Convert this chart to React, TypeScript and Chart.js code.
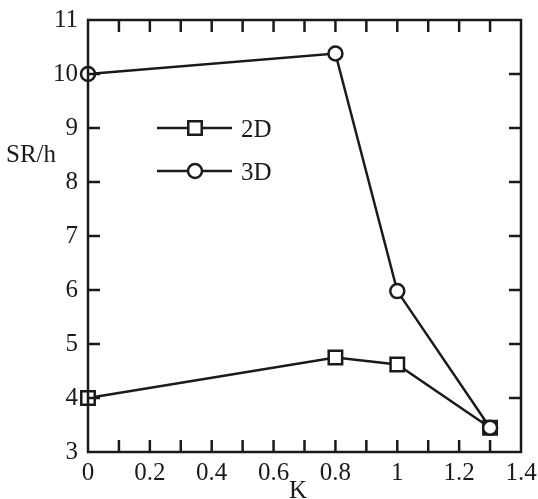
import React, { useEffect, useRef } from "react";
import { Chart, registerables } from "chart.js";

Chart.register(...registerables);

const kValues = [0, 0.8, 1.0, 1.3];
const sr2D = [4.0, 4.75, 4.62, 3.45];
const sr3D = [10.0, 10.38, 5.98, 3.45];
const xTickValues = [0, 0.2, 0.4, 0.6, 0.8, 1.0, 1.2, 1.4];
const xTickLabels = ["0", "0.2", "0.4", "0.6", "0.8", "1", "1.2", "1.4"];
const xMinorTicks = [0.1, 0.2, 0.3, 0.4, 0.5, 0.6, 0.7, 0.8, 0.9, 1.0, 1.1, 1.2, 1.3];
const yTickValues = [3, 4, 5, 6, 7, 8, 9, 10, 11];
const yTickLabels = ["3", "4", "5", "6", "7", "8", "9", "10", "11"];
const seriesNames = ["2D", "3D"];
const xTitle = "K";
const yTitle = "SR/h";

const FONT = "\"Liberation Serif\", \"Times New Roman\", Times, serif";
const FS = 25;

const framePlugin = {
  id: "frame",
  afterDraw(chart: any) {
    const { ctx, chartArea } = chart;
    const xs = chart.scales.x;
    const ys = chart.scales.y;
    const { left, right, top, bottom } = chartArea;
    ctx.save();
    ctx.strokeStyle = "#1a1a1a";
    ctx.lineWidth = 2.5;
    ctx.lineCap = "butt";
    ctx.strokeRect(left, top, right - left, bottom - top);
    const tl = 12;
    ctx.beginPath();
    xMinorTicks.forEach((v) => {
      const px = xs.getPixelForValue(v);
      ctx.moveTo(px, bottom);
      ctx.lineTo(px, bottom - tl);
      ctx.moveTo(px, top);
      ctx.lineTo(px, top + tl);
    });
    yTickValues.slice(1, -1).forEach((v) => {
      const py = ys.getPixelForValue(v);
      ctx.moveTo(left, py);
      ctx.lineTo(left + tl, py);
      ctx.moveTo(right, py);
      ctx.lineTo(right - tl, py);
    });
    ctx.stroke();

    // titles
    ctx.fillStyle = "#1a1a1a";
    ctx.font = `${FS}px ${FONT}`;
    ctx.textBaseline = "alphabetic";
    ctx.textAlign = "left";
    ctx.fillText(yTitle, 6, 162);
    ctx.textAlign = "center";
    ctx.fillText(xTitle, 298, 498);

    // legend
    const legendItems = [
      { name: seriesNames[0], y: 128, style: "rect", r: 9.5 },
      { name: seriesNames[1], y: 171, style: "circle", r: 7 },
    ];
    legendItems.forEach((it) => {
      ctx.beginPath();
      ctx.lineWidth = 2.5;
      ctx.moveTo(157, it.y);
      ctx.lineTo(232, it.y);
      ctx.stroke();
      ctx.beginPath();
      if (it.style === "rect") {
        const s = it.r * Math.SQRT1_2;
        ctx.rect(195 - s, it.y - s, 2 * s, 2 * s);
      } else {
        ctx.arc(195, it.y, it.r, 0, Math.PI * 2);
      }
      ctx.fillStyle = "#ffffff";
      ctx.fill();
      ctx.stroke();
      ctx.fillStyle = "#1a1a1a";
      ctx.textAlign = "left";
      ctx.textBaseline = "alphabetic";
      ctx.font = `${FS}px ${FONT}`;
      ctx.fillText(it.name, 241, it.y + 9);
    });
    ctx.restore();
  },
};

export default function App() {
  const ref = useRef<HTMLCanvasElement | null>(null);
  useEffect(() => {
    document.body.style.margin = "0";
    const canvas = ref.current;
    if (!canvas) return;
    let chart: any = null;
    let cancelled = false;
    const build = () => {
      if (cancelled) return;
      chart = new Chart(canvas, {
        type: "line",
        data: {
          datasets: [
            {
              label: seriesNames[1],
              data: kValues.map((k, i) => ({ x: k, y: sr3D[i] })),
              borderColor: "#1a1a1a",
              borderWidth: 2.5,
              pointStyle: "circle",
              pointRadius: 7,
              pointBorderWidth: 2.5,
              pointBackgroundColor: "#ffffff",
              pointBorderColor: "#1a1a1a",
              order: 0,
              clip: false as any,
            },
            {
              label: seriesNames[0],
              data: kValues.map((k, i) => ({ x: k, y: sr2D[i] })),
              borderColor: "#1a1a1a",
              borderWidth: 2.5,
              pointStyle: "rect",
              pointRadius: 9.5,
              pointBorderWidth: 2.5,
              pointBackgroundColor: "#ffffff",
              pointBorderColor: "#1a1a1a",
              order: 1,
              clip: false as any,
            },
          ],
        },
        options: {
          responsive: false,
          animation: false,
          layout: { padding: { top: 20, right: 17, left: 0, bottom: 0 } },
          plugins: { legend: { display: false }, tooltip: { enabled: false } },
          scales: {
            x: {
              type: "linear",
              min: 0,
              max: 1.4,
              afterBuildTicks: (s: any) => {
                s.ticks = xTickValues.map((v) => ({ value: v }));
              },
              afterFit: (s: any) => {
                s.height = 47;
                s.paddingLeft = 0;
                s.paddingRight = 0;
              },
              grid: { display: false, drawTicks: false },
              border: { display: false },
              ticks: {
                autoSkip: false,
                maxRotation: 0,
                padding: 6,
                color: "#1a1a1a",
                font: { family: FONT, size: FS },
                callback: (v: any) => {
                  const i = xTickValues.findIndex((t) => Math.abs(t - v) < 1e-6);
                  return i >= 0 ? xTickLabels[i] : "";
                },
              },
            },
            y: {
              type: "linear",
              min: 3,
              max: 11,
              afterBuildTicks: (s: any) => {
                s.ticks = yTickValues.map((v) => ({ value: v }));
              },
              afterFit: (s: any) => {
                s.width = 88;
                s.paddingTop = 0;
                s.paddingBottom = 0;
              },
              grid: { display: false, drawTicks: false },
              border: { display: false },
              ticks: {
                autoSkip: false,
                padding: 10,
                color: "#1a1a1a",
                font: { family: FONT, size: FS },
                callback: (v: any) => {
                  const i = yTickValues.findIndex((t) => Math.abs(t - v) < 1e-6);
                  return i >= 0 ? yTickLabels[i] : "";
                },
              },
            },
          },
        },
        plugins: [framePlugin],
      });
    };
    const fontsApi: any = (document as any).fonts;
    if (fontsApi && fontsApi.load) {
      fontsApi.load(`25px "Liberation Serif"`).then(build, build);
    } else {
      build();
    }
    return () => {
      cancelled = true;
      if (chart) chart.destroy();
    };
  }, []);
  return <canvas ref={ref} width={538} height={499} style={{ display: "block" }} />;
}
